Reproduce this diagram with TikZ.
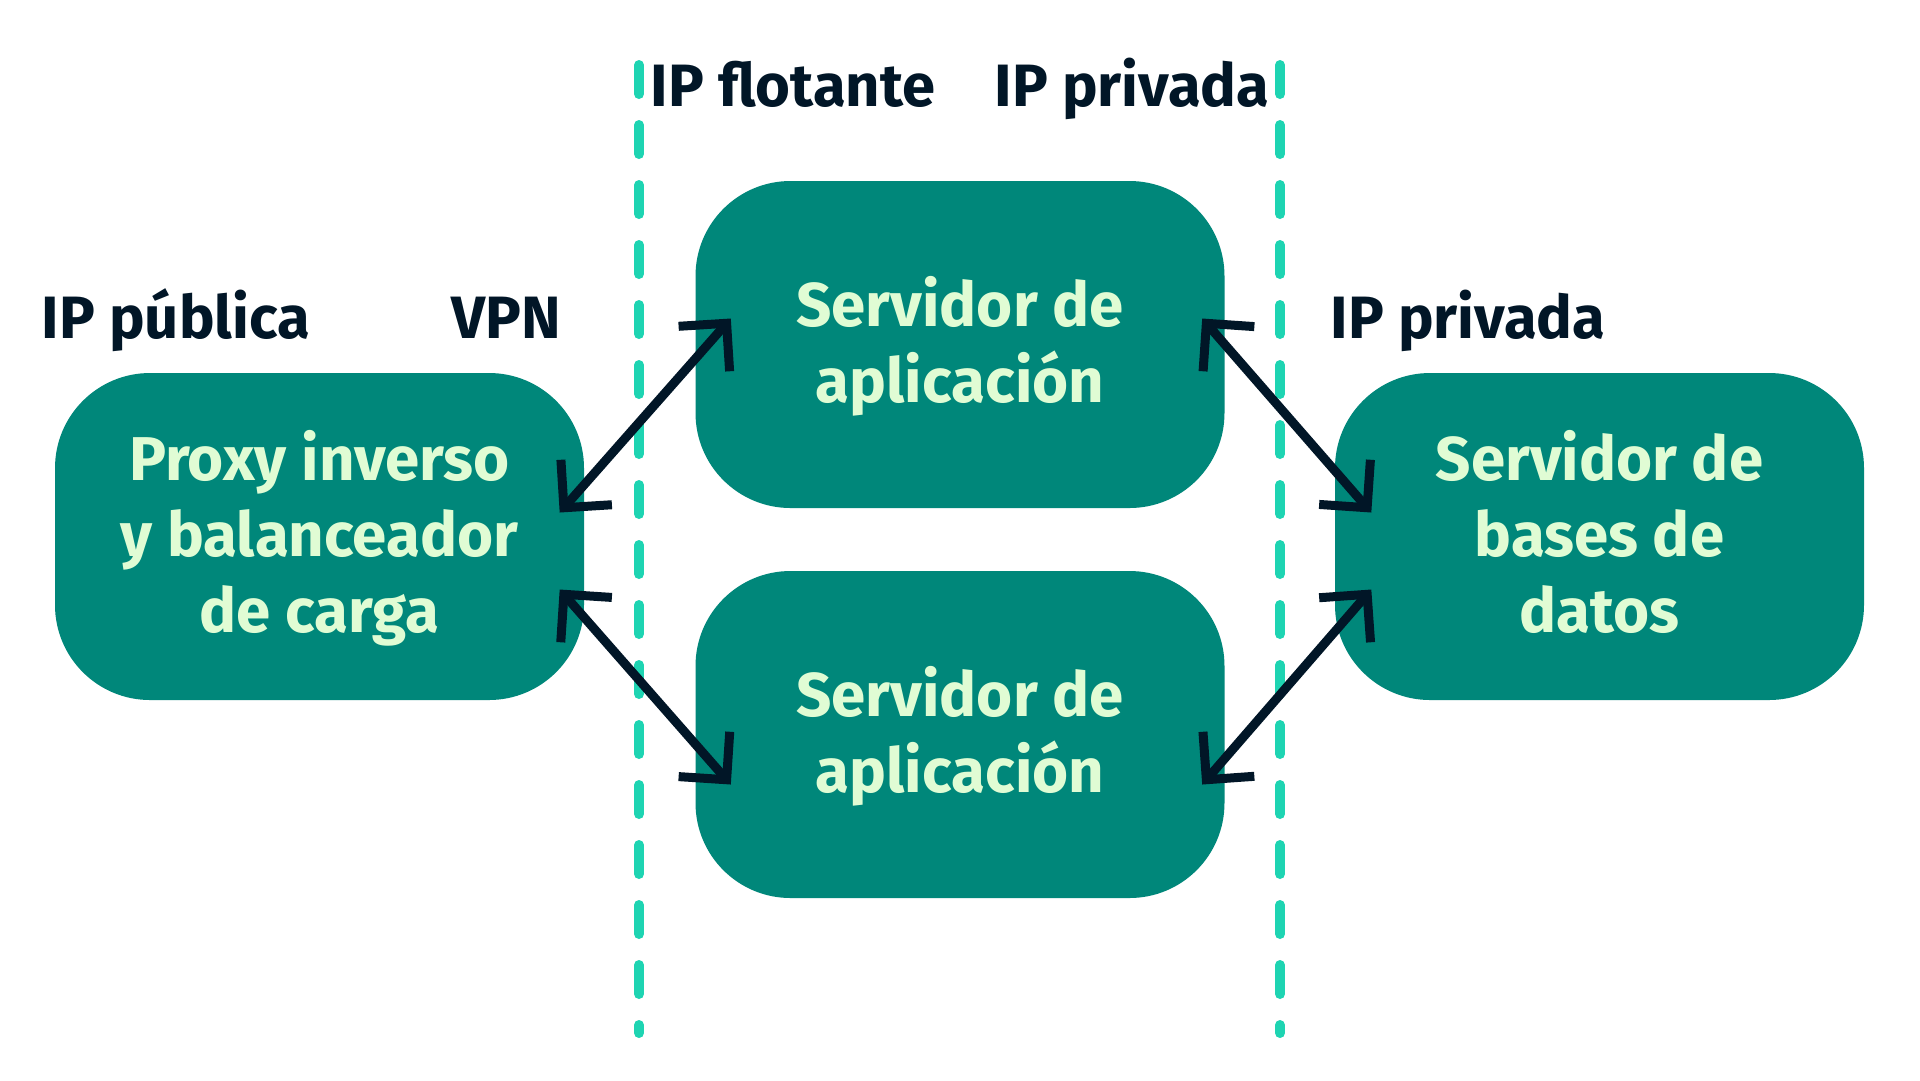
\documentclass[tikz,border=0pt]{standalone}
\usepackage{fontspec}
\setmainfont{Fira Sans}
\usetikzlibrary{arrows.meta,calc}
\definecolor{boxfill}{HTML}{00877A}
\definecolor{boxtext}{HTML}{E0FCD4}
\definecolor{darkink}{HTML}{011627}
\definecolor{dashcol}{HTML}{1ED4B2}
\newcommand{\topstrut}{\rule{0pt}{17.8pt}}
\tikzset{
  box/.style={fill=boxfill, rounded corners=9.5mm, minimum width=52.9mm, minimum height=32.7mm,
    inner sep=0pt, align=center, text=boxtext,
    font=\fontsize{17.6}{21.6}\selectfont\bfseries},
  lbl/.style={anchor=base, inner sep=0pt, text=darkink, font=\fontsize{17}{20}\selectfont\bfseries},
  sep/.style={draw=dashcol, line width=1mm, line cap=round, dash pattern=on 2.9mm off 3.1mm},
  link/.style={draw=darkink, line width=0.9mm, {Straight Barb[length=3.4mm,width=6.8mm]}-{Straight Barb[length=3.4mm,width=6.8mm]}}
}
\begin{document}
\begin{tikzpicture}[x=0.1mm,y=-0.1mm]
\useasboundingbox[fill=white] (0,0) rectangle (1920,1080);
% separators
\coordinate (s1a) at (639,65);
\coordinate (s1b) at (639,1033);
\coordinate (s2a) at (1280,65);
\coordinate (s2b) at (1280,1033);
\draw[sep] (s1a) -- (s1b);
\draw[sep] (s2a) -- (s2b);
% boxes
\node[box] (L) at (319.5,536.5) {\topstrut Proxy inverso\\y balanceador\\de carga\strut};
\node[box] (T) at (960,344.5) {\topstrut Servidor de\\aplicación\strut};
\node[box] (B) at (960,734.5) {\topstrut Servidor de\\aplicación\strut};
\node[box] (R) at (1599.5,536.5) {\topstrut Servidor de\\bases de\\datos\strut};
% labels
\node[lbl] (ipf) at (793,106) {IP flotante};
\node[lbl] (ipv1) at (1132,106) {IP privada};
\node[lbl] (ipp) at (176,338) {IP pública};
\node[lbl] (vpn) at (506,338) {VPN};
\node[lbl] (ipv2) at (1468,338) {IP privada};
% links
\draw[link] ($(L.east)+(-25,-24)$) -- ($(T.west)+(36,-26)$);
\draw[link] ($(L.east)+(-25,53)$) -- ($(B.west)+(36,50)$);
\draw[link] ($(T.east)+(-23,-26)$) -- ($(R.west)+(37,-24)$);
\draw[link] ($(B.east)+(-23,50)$) -- ($(R.west)+(37,53)$);
\end{tikzpicture}
\end{document}
